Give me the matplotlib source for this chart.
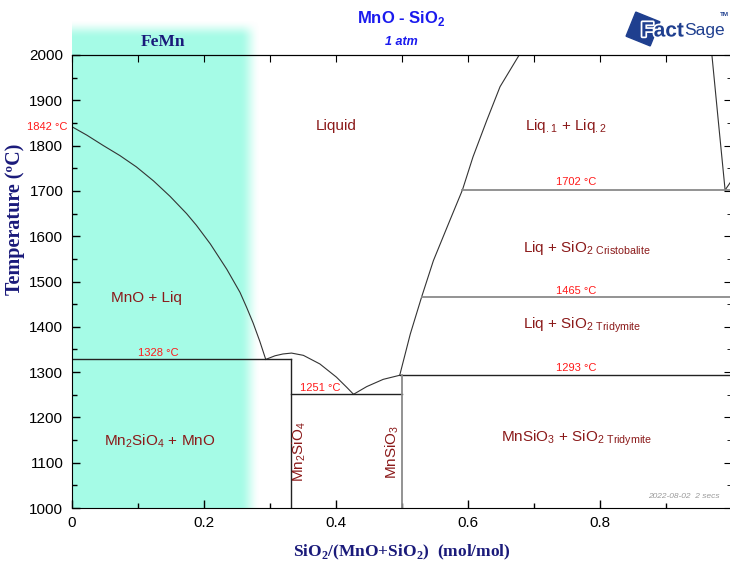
import numpy as np
import matplotlib
matplotlib.use("Agg")
import matplotlib.pyplot as plt
import matplotlib.patheffects as pe
from matplotlib.patches import Rectangle
import matplotlib.transforms as mtransforms

plt.rcParams['font.family'] = ['Liberation Sans', 'DejaVu Sans']
plt.rcParams['mathtext.fontset'] = 'custom'
plt.rcParams['mathtext.rm'] = 'Liberation Sans'

# liquidus curves (x = mol fraction SiO2, t = degC)
mno_liq_x = [0, 0.023, 0.048, 0.073, 0.098, 0.124, 0.149, 0.174, 0.189, 0.210,
             0.235, 0.255, 0.265, 0.275, 0.285, 0.294]
mno_liq_t = [1842, 1823, 1800, 1778, 1753, 1722, 1688, 1650, 1624, 1583,
             1527, 1476, 1443, 1408, 1368, 1328]
m2s_liq_x = [0.294, 0.308, 0.320, 0.333, 0.351, 0.376, 0.401, 0.417, 0.427]
m2s_liq_t = [1328, 1336, 1340, 1342, 1337, 1318, 1289, 1266, 1251]
ms_liq_x = [0.427, 0.447, 0.472, 0.497]
ms_liq_t = [1251, 1268, 1284, 1293]
sio2_liq_x = [0.497, 0.513, 0.530, 0.548, 0.573, 0.592, 0.608, 0.629, 0.649, 0.678]
sio2_liq_t = [1293, 1384, 1465, 1546, 1635, 1702, 1775, 1856, 1930, 2000]
gap_x = [0.970, 0.980, 0.990]
gap_t = [2000, 1850, 1702]
crist_x = [0.990, 1.0]
crist_t = [1702, 1723]

# invariant lines: (temperature, x start, x end)
inv_black = [(1328, 0, 0.333), (1251, 0.333, 0.5), (1293, 0.497, 1.0)]
inv_gray = [(1465, 0.530, 1.0), (1702, 0.592, 1.0)]
compounds = [0.333, 0.5]
compound_top = [1328, 1293]

W, H = 730, 566
fig = plt.figure(figsize=(W / 100, H / 100), dpi=100)

# FeMn cyan band (blurred box) in figure pixels
xs = np.arange(W) + 0.5
ys = np.arange(H) + 0.5
def ramp(v, a, b):
    s = np.clip((v - a) / (b - a), 0, 1)
    return s * s * (3 - 2 * s)
hx = (xs >= 72) * (1 - ramp(xs, 240, 260))
hy = ramp(ys, 20, 38) * (ys <= 508)
alpha = np.outer(hy, hx)
img = np.zeros((H, W, 4))
img[..., 0] = 165 / 255
img[..., 1] = 251 / 255
img[..., 2] = 230 / 255
img[..., 3] = alpha
bg = fig.add_axes([0, 0, 1, 1], zorder=0)
bg.imshow(img, extent=[0, W, H, 0], aspect='auto', interpolation='bilinear')
bg.set_xlim(0, W)
bg.set_ylim(H, 0)
bg.axis('off')

ax = fig.add_axes([71.7 / W, (H - 508) / H, 660 / W, 453 / H], zorder=1)
ax.patch.set_alpha(0)
ax.set_xlim(0, 1)
ax.set_ylim(1000, 2000)

lc = '#333333'
ax.plot(mno_liq_x, mno_liq_t, color=lc, lw=0.8)
ax.plot(m2s_liq_x, m2s_liq_t, color=lc, lw=0.8)
ax.plot(ms_liq_x, ms_liq_t, color=lc, lw=0.8)
ax.plot(sio2_liq_x, sio2_liq_t, color=lc, lw=0.8)
ax.plot(gap_x, gap_t, color=lc, lw=0.8)
ax.plot(crist_x, crist_t, color=lc, lw=0.8)
for t, x0, x1 in inv_black:
    ax.plot([x0, x1], [t, t], color='#222222', lw=1.0)
for t, x0, x1 in inv_gray:
    ax.plot([x0, x1], [t, t], color='#8a8a8a', lw=1.3)
ax.plot([compounds[0]] * 2, [1000, compound_top[0]], color='#222222', lw=1.0)
ax.plot([compounds[1]] * 2, [1000, compound_top[1]], color='#8a8a8a', lw=1.3)

# ticks
ax.set_xticks([0, 0.2, 0.4, 0.6, 0.8, 1.0])
ax.set_xticklabels(['0', '0.2', '0.4', '0.6', '0.8', ''])
ax.set_xticks(np.arange(0.1, 1.0, 0.2), minor=True)
ax.set_yticks(np.arange(1000, 2001, 100))
ax.set_yticks(np.arange(1050, 2000, 100), minor=True)
ax.tick_params(which='both', direction='in', labelsize=11, width=1)
ax.tick_params(which='major', length=6, pad=6)
ax.tick_params(which='minor', length=3.5)
top = ax.secondary_xaxis('top')
top.set_xticks(np.arange(0, 1.01, 0.1))
top.tick_params(direction='in', length=5, labeltop=False)
right = ax.secondary_yaxis('right')
right.set_yticks(np.arange(1000, 2001, 100))
right.set_yticks(np.arange(1050, 2000, 100), minor=True)
right.tick_params(which='both', direction='in', labelright=False)
right.tick_params(which='major', length=6)
right.tick_params(which='minor', length=3.5)

navy = '#1a1a7a'
ax.set_xlabel(r'SiO$_\mathregular{2}$/(MnO+SiO$_\mathregular{2}$)  (mol/mol)',
              family='Liberation Serif', fontweight='bold', fontsize=12.5,
              color=navy, labelpad=9)
ax.set_ylabel('Temperature (ºC)', family='Liberation Serif', fontweight='bold',
              fontsize=14.5, color=navy)
ax.yaxis.set_label_coords(-0.071, 0.638)

dred = '#8b1a1a'
red = '#ff1a1a'
fs = 11
ax.text(0.40, 1843, 'Liquid', color=dred, fontsize=fs, ha='center', va='center')
ax.text(0.749, 1843, r'Liq$_{.1}$ + Liq$_{.2}$', color=dred, fontsize=fs,
        ha='center', va='center')
ax.text(0.684, 1573, r'Liq + SiO$_{2\ \mathregular{Cristobalite}}$', color=dred,
        fontsize=fs, ha='left', va='center')
ax.text(0.684, 1403, r'Liq + SiO$_{2\ \mathregular{Tridymite}}$', color=dred,
        fontsize=fs, ha='left', va='center')
ax.text(0.650, 1153, r'MnSiO$_3$ + SiO$_{2\ \mathregular{Tridymite}}$', color=dred,
        fontsize=fs, ha='left', va='center')
ax.text(0.113, 1464, 'MnO + Liq', color=dred, fontsize=fs, ha='center', va='center')
ax.text(0.134, 1148, r'Mn$_2$SiO$_4$ + MnO', color=dred, fontsize=fs,
        ha='center', va='center')
ax.text(0.345, 1124, r'Mn$_2$SiO$_4$', color=dred, fontsize=fs, rotation=90,
        ha='center', va='center')
ax.text(0.486, 1124, r'MnSiO$_3$', color=dred, fontsize=fs, rotation=90,
        ha='center', va='center')

tfs = 8
ax.text(0.764, 1708, '1702 °C', color=red, fontsize=tfs, ha='center', va='bottom')
ax.text(0.764, 1469, '1465 °C', color=red, fontsize=tfs, ha='center', va='bottom')
ax.text(0.764, 1297, '1293 °C', color=red, fontsize=tfs, ha='center', va='bottom')
ax.text(0.376, 1254, '1251 °C', color=red, fontsize=tfs, ha='center', va='bottom')
ax.text(0.131, 1331, '1328 °C', color=red, fontsize=tfs, ha='center', va='bottom')
ax.text(-0.006, 1842, '1842 °C', color=red, fontsize=tfs, ha='right',
        va='center', clip_on=False)
ax.text(0.982, 1018, '2022-08-02  2 secs', color='#9a9a9a', fontsize=6,
        style='italic', ha='right', va='bottom')

# titles
fig.text(401.7 / W, 1 - 18 / H, r'MnO - SiO$_\mathregular{2}$', color='#1a1aee',
         fontsize=12, fontweight='bold', ha='center', va='center')
fig.text(401.7 / W, 1 - 42 / H, '1 atm', color='#1a1aee', fontsize=9,
         fontweight='bold', style='italic', ha='center', va='center')
fig.text(163 / W, 1 - 42 / H, 'FeMn', color=navy, fontsize=12.5,
         family='Liberation Serif', fontweight='bold', ha='center', va='center')

# FactSage logo
sq = Rectangle((-13, -13), 26, 26, color='#1f3f8f')
sq.set_transform(mtransforms.Affine2D().rotate_deg(22).translate(643, 29)
                 + bg.transData)
bg.add_patch(sq)
fig.text(641 / W, 1 - 31 / H, 'Fact', color='#1f3f8f', fontsize=15,
         fontweight='bold', ha='left', va='center',
         path_effects=[pe.withStroke(linewidth=2.5, foreground='white')])
fig.text(684 / W, 1 - 31 / H, 'Sage', color='#1f3f8f', fontsize=12.5,
         ha='left', va='center')
fig.text(729 / W, 1 - 15 / H, 'TM', color='#1f3f8f', fontsize=4.5,
         fontweight='bold', ha='right', va='center')

fig.savefig('out.png', dpi=100)
